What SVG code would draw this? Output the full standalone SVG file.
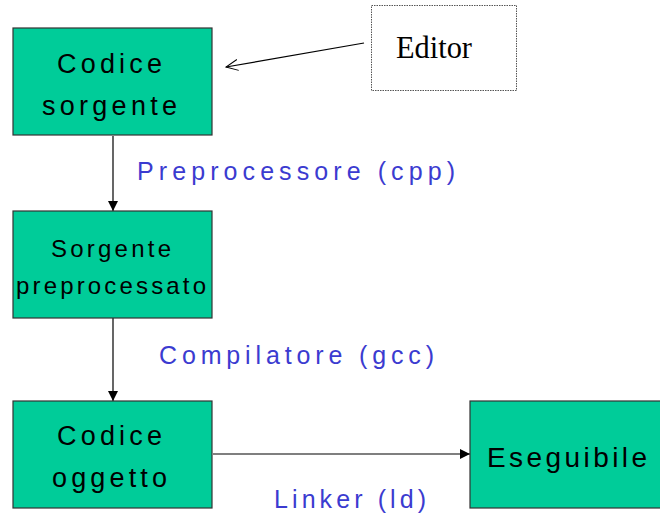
<svg xmlns="http://www.w3.org/2000/svg" width="660" height="514" viewBox="0 0 660 514">
<style>
.box{fill:#00CC99;stroke:#333333;stroke-width:1.2}
.bt{font-family:"Liberation Sans",Arial,sans-serif;fill:#000000}
.lbl{font-family:"Liberation Sans",Arial,sans-serif;fill:#3B3BD0;font-size:25px}
.conn{stroke:#000000;stroke-width:1.2;fill:none}
</style>
<defs>
<marker id="tri" markerWidth="11" markerHeight="11" refX="10" refY="5" orient="auto" markerUnits="userSpaceOnUse">
<path d="M0,0 L10,5 L0,10 Z" fill="#000000"/>
</marker>
<marker id="open" markerWidth="14" markerHeight="14" refX="12" refY="6" orient="auto" markerUnits="userSpaceOnUse">
<path d="M0,0.5 L12,6 L0,11.5" fill="none" stroke="#000000" stroke-width="1"/>
</marker>
</defs>
<g id="connectors">
<line class="conn" x1="364" y1="43" x2="226" y2="67" marker-end="url(#open)"/>
<line class="conn" x1="113" y1="136" x2="113" y2="211" marker-end="url(#tri)"/>
<line class="conn" x1="113" y1="318" x2="113" y2="401" marker-end="url(#tri)"/>
<line class="conn" x1="213" y1="454" x2="470" y2="454" marker-end="url(#tri)"/>
</g>
<g id="editor">
<rect x="371.5" y="5.5" width="145" height="85" fill="#FFFFFF" stroke="#555555" stroke-width="1" stroke-dasharray="1.5,1"/>
<text x="396" y="58" font-family="'Liberation Serif','Times New Roman',serif" font-size="31" textLength="76" lengthAdjust="spacingAndGlyphs">Editor</text>
</g>
<g id="codice-sorgente">
<rect class="box" x="13" y="28" width="199" height="107"/>
<text class="bt" font-size="27" x="57" y="73" textLength="105" lengthAdjust="spacing">Codice</text>
<text class="bt" font-size="27" x="42" y="115" textLength="135" lengthAdjust="spacing">sorgente</text>
</g>
<g id="sorgente-preprocessato">
<rect class="box" x="13" y="211" width="199" height="107"/>
<text class="bt" font-size="24" x="51" y="257" textLength="120" lengthAdjust="spacing">Sorgente</text>
<text class="bt" font-size="24" x="16" y="294" textLength="190" lengthAdjust="spacing">preprocessato</text>
</g>
<g id="codice-oggetto">
<rect class="box" x="13" y="401" width="199" height="107"/>
<text class="bt" font-size="27" x="57" y="445" textLength="105" lengthAdjust="spacing">Codice</text>
<text class="bt" font-size="27" x="52" y="487" textLength="115" lengthAdjust="spacing">oggetto</text>
</g>
<g id="eseguibile">
<rect class="box" x="470" y="401" width="194" height="107"/>
<text class="bt" font-size="28" x="487" y="467" textLength="160" lengthAdjust="spacing">Eseguibile</text>
</g>
<g id="labels">
<text class="lbl" x="137" y="180" textLength="318" lengthAdjust="spacing">Preprocessore (cpp)</text>
<text class="lbl" x="159" y="364" textLength="275" lengthAdjust="spacing">Compilatore (gcc)</text>
<text class="lbl" x="274" y="508" textLength="152" lengthAdjust="spacing">Linker (ld)</text>
</g>
</svg>
